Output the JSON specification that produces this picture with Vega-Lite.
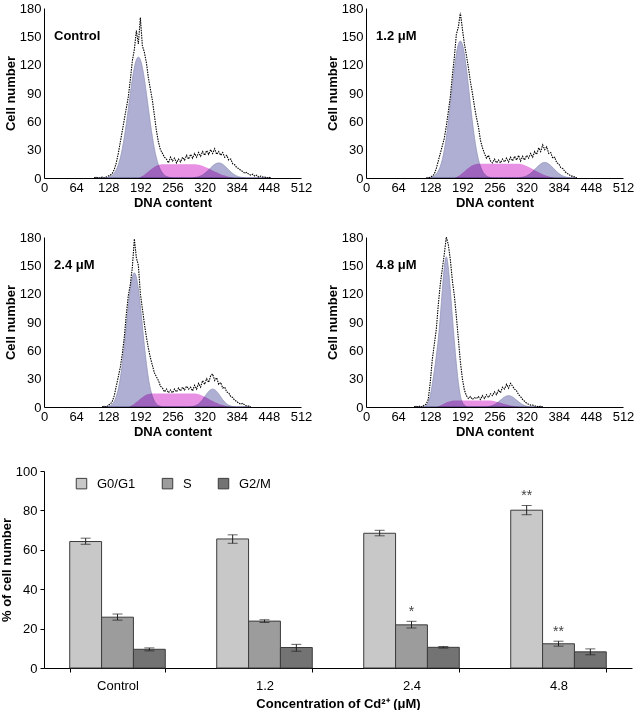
{
"$schema":"https://vega.github.io/schema/vega-lite/v6.json",
"padding":{"left":0,"top":2,"right":2,"bottom":0},
"config":{"font":"Liberation Sans","view":{"stroke":null},
"axis":{"labelFont":"Liberation Sans","labelFontSize":13,"labelColor":"#000","titleFont":"Liberation Sans","titleFontSize":13,"titleFontWeight":"bold","titleColor":"#000","domainColor":"#000","tickColor":"#000","grid":false,"ticks":false,"labelPadding":3,"titlePadding":2,"labelOverlap":false,"tickCount":20}},
"resolve":{"scale":{"color":"independent"},"legend":{"color":"independent"}},
"datasets":{
"hist":[
{"p":"Control","x":100,"a":0,"s":0,"b":0,"d":0},
{"p":"Control","x":104,"a":0,"s":0,"b":0,"d":1},
{"p":"Control","x":108,"a":0,"s":0,"b":0,"d":0},
{"p":"Control","x":112,"a":0,"s":0,"b":0,"d":0},
{"p":"Control","x":116,"a":0,"s":0,"b":0,"d":1},
{"p":"Control","x":120,"a":0,"s":0,"b":0,"d":0},
{"p":"Control","x":124,"a":0,"s":0,"b":0,"d":1},
{"p":"Control","x":128,"a":0.9,"s":0,"b":0,"d":2},
{"p":"Control","x":132,"a":1.7,"s":0,"b":0,"d":3},
{"p":"Control","x":136,"a":3.0,"s":0,"b":0,"d":5},
{"p":"Control","x":140,"a":5.3,"s":0,"b":0,"d":9},
{"p":"Control","x":144,"a":8.8,"s":0,"b":0,"d":16},
{"p":"Control","x":148,"a":14.0,"s":0,"b":0,"d":26},
{"p":"Control","x":152,"a":21.2,"s":0,"b":0,"d":38},
{"p":"Control","x":156,"a":31.0,"s":0,"b":0,"d":50},
{"p":"Control","x":160,"a":43.3,"s":0,"b":0,"d":62},
{"p":"Control","x":164,"a":57.6,"s":0,"b":0,"d":74},
{"p":"Control","x":168,"a":73.6,"s":0,"b":0,"d":86},
{"p":"Control","x":172,"a":89.7,"s":0,"b":0,"d":104},
{"p":"Control","x":176,"a":104.8,"s":0,"b":0,"d":124},
{"p":"Control","x":180,"a":117.1,"s":0,"b":0,"d":136},
{"p":"Control","x":184,"a":125.2,"s":0,"b":0,"d":156},
{"p":"Control","x":188,"a":128,"s":0,"b":0,"d":142},
{"p":"Control","x":192,"a":125.2,"s":0.8,"b":0,"d":170},
{"p":"Control","x":196,"a":117.1,"s":2,"b":0,"d":140},
{"p":"Control","x":200,"a":104.8,"s":3.5,"b":0,"d":133},
{"p":"Control","x":204,"a":89.7,"s":5.2,"b":0,"d":122},
{"p":"Control","x":208,"a":73.6,"s":7,"b":0,"d":106},
{"p":"Control","x":212,"a":57.6,"s":8.8,"b":0,"d":94},
{"p":"Control","x":216,"a":43.3,"s":10.4,"b":0,"d":82},
{"p":"Control","x":220,"a":31.0,"s":11.8,"b":0,"d":66},
{"p":"Control","x":224,"a":21.2,"s":13,"b":0,"d":50},
{"p":"Control","x":228,"a":14.0,"s":13.8,"b":0,"d":38},
{"p":"Control","x":232,"a":8.8,"s":14.3,"b":0,"d":30},
{"p":"Control","x":236,"a":5.3,"s":14.5,"b":0,"d":26},
{"p":"Control","x":240,"a":3.0,"s":14.5,"b":0,"d":22},
{"p":"Control","x":244,"a":1.7,"s":14.5,"b":0,"d":20},
{"p":"Control","x":248,"a":0.9,"s":14.5,"b":0,"d":16},
{"p":"Control","x":252,"a":0.5,"s":14.5,"b":0,"d":22},
{"p":"Control","x":256,"a":0,"s":14.5,"b":0,"d":18},
{"p":"Control","x":260,"a":0,"s":14.5,"b":0,"d":21},
{"p":"Control","x":264,"a":0,"s":14.5,"b":0,"d":16},
{"p":"Control","x":268,"a":0,"s":14.5,"b":0,"d":20},
{"p":"Control","x":272,"a":0,"s":14.5,"b":0,"d":17},
{"p":"Control","x":276,"a":0,"s":14.5,"b":0,"d":22},
{"p":"Control","x":280,"a":0,"s":14.5,"b":0,"d":19},
{"p":"Control","x":284,"a":0,"s":14.5,"b":0,"d":24},
{"p":"Control","x":288,"a":0,"s":14.5,"b":0,"d":20},
{"p":"Control","x":292,"a":0,"s":14.5,"b":0,"d":25},
{"p":"Control","x":296,"a":0,"s":14.5,"b":0,"d":21},
{"p":"Control","x":300,"a":0,"s":14.5,"b":0.5,"d":26},
{"p":"Control","x":304,"a":0,"s":14.3,"b":0.8,"d":22},
{"p":"Control","x":308,"a":0,"s":14,"b":1.4,"d":27},
{"p":"Control","x":312,"a":0,"s":13.5,"b":2.2,"d":23},
{"p":"Control","x":316,"a":0,"s":12.8,"b":3.3,"d":28},
{"p":"Control","x":320,"a":0,"s":12,"b":4.8,"d":24},
{"p":"Control","x":324,"a":0,"s":11,"b":6.6,"d":29},
{"p":"Control","x":328,"a":0,"s":10,"b":8.6,"d":25},
{"p":"Control","x":332,"a":0,"s":9,"b":10.8,"d":30},
{"p":"Control","x":336,"a":0,"s":8,"b":12.8,"d":26},
{"p":"Control","x":340,"a":0,"s":7,"b":14.5,"d":31},
{"p":"Control","x":344,"a":0,"s":6,"b":15.6,"d":25},
{"p":"Control","x":348,"a":0,"s":5,"b":16,"d":28},
{"p":"Control","x":352,"a":0,"s":4.1,"b":15.6,"d":24},
{"p":"Control","x":356,"a":0,"s":3.3,"b":14.5,"d":27},
{"p":"Control","x":360,"a":0,"s":2.6,"b":12.8,"d":22},
{"p":"Control","x":364,"a":0,"s":1.9,"b":10.8,"d":24},
{"p":"Control","x":368,"a":0,"s":1.3,"b":8.6,"d":19},
{"p":"Control","x":372,"a":0,"s":0.8,"b":6.6,"d":20},
{"p":"Control","x":376,"a":0,"s":0.4,"b":4.8,"d":15},
{"p":"Control","x":380,"a":0,"s":0,"b":3.3,"d":14},
{"p":"Control","x":384,"a":0,"s":0,"b":2.2,"d":11},
{"p":"Control","x":388,"a":0,"s":0,"b":1.4,"d":10},
{"p":"Control","x":392,"a":0,"s":0,"b":0.8,"d":8},
{"p":"Control","x":396,"a":0,"s":0,"b":0.5,"d":7},
{"p":"Control","x":400,"a":0,"s":0,"b":0.2,"d":5},
{"p":"Control","x":404,"a":0,"s":0,"b":0,"d":6},
{"p":"Control","x":408,"a":0,"s":0,"b":0,"d":4},
{"p":"Control","x":412,"a":0,"s":0,"b":0,"d":3},
{"p":"Control","x":416,"a":0,"s":0,"b":0,"d":4},
{"p":"Control","x":420,"a":0,"s":0,"b":0,"d":2},
{"p":"Control","x":424,"a":0,"s":0,"b":0,"d":3},
{"p":"Control","x":428,"a":0,"s":0,"b":0,"d":1},
{"p":"Control","x":432,"a":0,"s":0,"b":0,"d":2},
{"p":"Control","x":436,"a":0,"s":0,"b":0,"d":1},
{"p":"Control","x":440,"a":0,"s":0,"b":0,"d":1},
{"p":"Control","x":444,"a":0,"s":0,"b":0,"d":0},
{"p":"Control","x":448,"a":0,"s":0,"b":0,"d":1},
{"p":"Control","x":452,"a":0,"s":0,"b":0,"d":0},
{"p":"1.2 μM","x":120,"a":0,"s":0,"b":0,"d":0},
{"p":"1.2 μM","x":124,"a":0,"s":0,"b":0,"d":0},
{"p":"1.2 μM","x":128,"a":0,"s":0,"b":0,"d":1},
{"p":"1.2 μM","x":132,"a":1.1,"s":0,"b":0,"d":2},
{"p":"1.2 μM","x":136,"a":2.2,"s":0,"b":0,"d":4},
{"p":"1.2 μM","x":140,"a":4.2,"s":0,"b":0,"d":10},
{"p":"1.2 μM","x":144,"a":7.3,"s":0,"b":0,"d":18},
{"p":"1.2 μM","x":148,"a":12.3,"s":0,"b":0,"d":26},
{"p":"1.2 μM","x":152,"a":19.6,"s":0,"b":0,"d":34},
{"p":"1.2 μM","x":156,"a":29.9,"s":0,"b":0,"d":42},
{"p":"1.2 μM","x":160,"a":43.2,"s":0,"b":0,"d":55},
{"p":"1.2 μM","x":164,"a":59.6,"s":0,"b":0,"d":70},
{"p":"1.2 μM","x":168,"a":78.2,"s":0,"b":0,"d":86},
{"p":"1.2 μM","x":172,"a":97.7,"s":0,"b":0,"d":108},
{"p":"1.2 μM","x":176,"a":116.1,"s":0,"b":0,"d":128},
{"p":"1.2 μM","x":180,"a":131.4,"s":0.8,"b":0,"d":152},
{"p":"1.2 μM","x":184,"a":141.5,"s":2,"b":0,"d":160},
{"p":"1.2 μM","x":188,"a":145,"s":3.5,"b":0,"d":175},
{"p":"1.2 μM","x":192,"a":141.5,"s":5.2,"b":0,"d":158},
{"p":"1.2 μM","x":196,"a":131.4,"s":7,"b":0,"d":142},
{"p":"1.2 μM","x":200,"a":116.1,"s":8.9,"b":0,"d":130},
{"p":"1.2 μM","x":204,"a":97.7,"s":10.6,"b":0,"d":117},
{"p":"1.2 μM","x":208,"a":78.2,"s":12.2,"b":0,"d":102},
{"p":"1.2 μM","x":212,"a":59.6,"s":13.4,"b":0,"d":90},
{"p":"1.2 μM","x":216,"a":43.2,"s":14.3,"b":0,"d":76},
{"p":"1.2 μM","x":220,"a":29.9,"s":14.8,"b":0,"d":64},
{"p":"1.2 μM","x":224,"a":19.6,"s":15,"b":0,"d":54},
{"p":"1.2 μM","x":228,"a":12.3,"s":15,"b":0,"d":40},
{"p":"1.2 μM","x":232,"a":7.3,"s":15,"b":0,"d":32},
{"p":"1.2 μM","x":236,"a":4.2,"s":15,"b":0,"d":26},
{"p":"1.2 μM","x":240,"a":2.2,"s":15,"b":0,"d":21},
{"p":"1.2 μM","x":244,"a":1.1,"s":15,"b":0,"d":24},
{"p":"1.2 μM","x":248,"a":0.5,"s":15,"b":0,"d":18},
{"p":"1.2 μM","x":252,"a":0,"s":15,"b":0,"d":16},
{"p":"1.2 μM","x":256,"a":0,"s":15,"b":0,"d":20},
{"p":"1.2 μM","x":260,"a":0,"s":15,"b":0,"d":16},
{"p":"1.2 μM","x":264,"a":0,"s":15,"b":0,"d":19},
{"p":"1.2 μM","x":268,"a":0,"s":15,"b":0,"d":16},
{"p":"1.2 μM","x":272,"a":0,"s":15,"b":0,"d":20},
{"p":"1.2 μM","x":276,"a":0,"s":15,"b":0,"d":17},
{"p":"1.2 μM","x":280,"a":0,"s":15,"b":0,"d":21},
{"p":"1.2 μM","x":284,"a":0,"s":15,"b":0,"d":17},
{"p":"1.2 μM","x":288,"a":0,"s":15,"b":0,"d":22},
{"p":"1.2 μM","x":292,"a":0,"s":15,"b":0,"d":18},
{"p":"1.2 μM","x":296,"a":0,"s":15,"b":0,"d":23},
{"p":"1.2 μM","x":300,"a":0,"s":15,"b":0,"d":19},
{"p":"1.2 μM","x":304,"a":0,"s":15,"b":0,"d":24},
{"p":"1.2 μM","x":308,"a":0,"s":14.7,"b":0.5,"d":18},
{"p":"1.2 μM","x":312,"a":0,"s":14.2,"b":0.8,"d":23},
{"p":"1.2 μM","x":316,"a":0,"s":13.5,"b":1.4,"d":19},
{"p":"1.2 μM","x":320,"a":0,"s":12.6,"b":2.2,"d":24},
{"p":"1.2 μM","x":324,"a":0,"s":11.6,"b":3.4,"d":21},
{"p":"1.2 μM","x":328,"a":0,"s":10.5,"b":4.9,"d":26},
{"p":"1.2 μM","x":332,"a":0,"s":9.4,"b":6.8,"d":22},
{"p":"1.2 μM","x":336,"a":0,"s":8.3,"b":8.9,"d":28},
{"p":"1.2 μM","x":340,"a":0,"s":7.2,"b":11.1,"d":25},
{"p":"1.2 μM","x":344,"a":0,"s":6.1,"b":13.2,"d":32},
{"p":"1.2 μM","x":348,"a":0,"s":5.1,"b":14.9,"d":28},
{"p":"1.2 μM","x":352,"a":0,"s":4.1,"b":16.1,"d":35},
{"p":"1.2 μM","x":356,"a":0,"s":3.2,"b":16.5,"d":30},
{"p":"1.2 μM","x":360,"a":0,"s":2.4,"b":16.1,"d":33},
{"p":"1.2 μM","x":364,"a":0,"s":1.7,"b":14.9,"d":26},
{"p":"1.2 μM","x":368,"a":0,"s":1.1,"b":13.2,"d":27},
{"p":"1.2 μM","x":372,"a":0,"s":0.6,"b":11.1,"d":21},
{"p":"1.2 μM","x":376,"a":0,"s":0.3,"b":8.9,"d":22},
{"p":"1.2 μM","x":380,"a":0,"s":0,"b":6.8,"d":16},
{"p":"1.2 μM","x":384,"a":0,"s":0,"b":4.9,"d":15},
{"p":"1.2 μM","x":388,"a":0,"s":0,"b":3.4,"d":11},
{"p":"1.2 μM","x":392,"a":0,"s":0,"b":2.2,"d":10},
{"p":"1.2 μM","x":396,"a":0,"s":0,"b":1.4,"d":7},
{"p":"1.2 μM","x":400,"a":0,"s":0,"b":0.8,"d":5},
{"p":"1.2 μM","x":404,"a":0,"s":0,"b":0.5,"d":4},
{"p":"1.2 μM","x":408,"a":0,"s":0,"b":0,"d":2},
{"p":"1.2 μM","x":412,"a":0,"s":0,"b":0,"d":2},
{"p":"1.2 μM","x":416,"a":0,"s":0,"b":0,"d":1},
{"p":"1.2 μM","x":420,"a":0,"s":0,"b":0,"d":0},
{"p":"2.4 μM","x":116,"a":0,"s":0,"b":0,"d":0},
{"p":"2.4 μM","x":120,"a":0,"s":0,"b":0,"d":1},
{"p":"2.4 μM","x":124,"a":0,"s":0,"b":0,"d":0},
{"p":"2.4 μM","x":128,"a":0.7,"s":0,"b":0,"d":2},
{"p":"2.4 μM","x":132,"a":1.6,"s":0,"b":0,"d":3},
{"p":"2.4 μM","x":136,"a":3.2,"s":0,"b":0,"d":6},
{"p":"2.4 μM","x":140,"a":6.2,"s":0,"b":0,"d":12},
{"p":"2.4 μM","x":144,"a":11.3,"s":0,"b":0,"d":22},
{"p":"2.4 μM","x":148,"a":19.2,"s":0,"b":0,"d":32},
{"p":"2.4 μM","x":152,"a":30.7,"s":0,"b":0,"d":42},
{"p":"2.4 μM","x":156,"a":46.2,"s":0,"b":0,"d":56},
{"p":"2.4 μM","x":160,"a":65.0,"s":0,"b":0,"d":74},
{"p":"2.4 μM","x":164,"a":86.2,"s":0,"b":0,"d":98},
{"p":"2.4 μM","x":168,"a":107.2,"s":0,"b":0,"d":118},
{"p":"2.4 μM","x":172,"a":125.2,"s":0.8,"b":0,"d":130},
{"p":"2.4 μM","x":176,"a":137.6,"s":2,"b":0,"d":148},
{"p":"2.4 μM","x":180,"a":142,"s":3.5,"b":0,"d":178},
{"p":"2.4 μM","x":184,"a":137.6,"s":5.2,"b":0,"d":158},
{"p":"2.4 μM","x":188,"a":125.2,"s":7,"b":0,"d":150},
{"p":"2.4 μM","x":192,"a":107.2,"s":8.8,"b":0,"d":120},
{"p":"2.4 μM","x":196,"a":86.2,"s":10.4,"b":0,"d":104},
{"p":"2.4 μM","x":200,"a":65.0,"s":11.8,"b":0,"d":88},
{"p":"2.4 μM","x":204,"a":46.2,"s":12.9,"b":0,"d":74},
{"p":"2.4 μM","x":208,"a":30.7,"s":13.7,"b":0,"d":62},
{"p":"2.4 μM","x":212,"a":19.2,"s":14.1,"b":0,"d":52},
{"p":"2.4 μM","x":216,"a":11.3,"s":14.2,"b":0,"d":44},
{"p":"2.4 μM","x":220,"a":6.2,"s":14.2,"b":0,"d":36},
{"p":"2.4 μM","x":224,"a":3.2,"s":14.2,"b":0,"d":32},
{"p":"2.4 μM","x":228,"a":1.6,"s":14.2,"b":0,"d":28},
{"p":"2.4 μM","x":232,"a":0.7,"s":14.2,"b":0,"d":22},
{"p":"2.4 μM","x":236,"a":0,"s":14.2,"b":0,"d":20},
{"p":"2.4 μM","x":240,"a":0,"s":14.2,"b":0,"d":16},
{"p":"2.4 μM","x":244,"a":0,"s":14.2,"b":0,"d":19},
{"p":"2.4 μM","x":248,"a":0,"s":14.2,"b":0,"d":15},
{"p":"2.4 μM","x":252,"a":0,"s":14.2,"b":0,"d":18},
{"p":"2.4 μM","x":256,"a":0,"s":14.2,"b":0,"d":15},
{"p":"2.4 μM","x":260,"a":0,"s":14.2,"b":0,"d":19},
{"p":"2.4 μM","x":264,"a":0,"s":14.2,"b":0,"d":16},
{"p":"2.4 μM","x":268,"a":0,"s":14.2,"b":0,"d":20},
{"p":"2.4 μM","x":272,"a":0,"s":14.2,"b":0,"d":17},
{"p":"2.4 μM","x":276,"a":0,"s":14.2,"b":0,"d":21},
{"p":"2.4 μM","x":280,"a":0,"s":14.2,"b":0,"d":18},
{"p":"2.4 μM","x":284,"a":0,"s":14.2,"b":0,"d":22},
{"p":"2.4 μM","x":288,"a":0,"s":14.2,"b":0,"d":19},
{"p":"2.4 μM","x":292,"a":0,"s":14.2,"b":0.3,"d":21},
{"p":"2.4 μM","x":296,"a":0,"s":14.2,"b":0.5,"d":17},
{"p":"2.4 μM","x":300,"a":0,"s":14.2,"b":1.1,"d":23},
{"p":"2.4 μM","x":304,"a":0,"s":13.9,"b":2.0,"d":19},
{"p":"2.4 μM","x":308,"a":0,"s":13.4,"b":3.3,"d":25},
{"p":"2.4 μM","x":312,"a":0,"s":12.7,"b":5.3,"d":21},
{"p":"2.4 μM","x":316,"a":0,"s":11.8,"b":7.8,"d":28},
{"p":"2.4 μM","x":320,"a":0,"s":10.8,"b":10.8,"d":24},
{"p":"2.4 μM","x":324,"a":0,"s":9.7,"b":13.8,"d":30},
{"p":"2.4 μM","x":328,"a":0,"s":8.6,"b":16.5,"d":26},
{"p":"2.4 μM","x":332,"a":0,"s":7.5,"b":18.3,"d":33},
{"p":"2.4 μM","x":336,"a":0,"s":6.4,"b":19,"d":35},
{"p":"2.4 μM","x":340,"a":0,"s":5.4,"b":18.3,"d":28},
{"p":"2.4 μM","x":344,"a":0,"s":4.4,"b":16.5,"d":31},
{"p":"2.4 μM","x":348,"a":0,"s":3.5,"b":13.8,"d":24},
{"p":"2.4 μM","x":352,"a":0,"s":2.7,"b":10.8,"d":26},
{"p":"2.4 μM","x":356,"a":0,"s":2,"b":7.8,"d":20},
{"p":"2.4 μM","x":360,"a":0,"s":1.4,"b":5.3,"d":21},
{"p":"2.4 μM","x":364,"a":0,"s":0.9,"b":3.3,"d":16},
{"p":"2.4 μM","x":368,"a":0,"s":0.5,"b":2.0,"d":15},
{"p":"2.4 μM","x":372,"a":0,"s":0.2,"b":1.1,"d":11},
{"p":"2.4 μM","x":376,"a":0,"s":0,"b":0.5,"d":10},
{"p":"2.4 μM","x":380,"a":0,"s":0,"b":0.3,"d":7},
{"p":"2.4 μM","x":384,"a":0,"s":0,"b":0,"d":6},
{"p":"2.4 μM","x":388,"a":0,"s":0,"b":0,"d":4},
{"p":"2.4 μM","x":392,"a":0,"s":0,"b":0,"d":3},
{"p":"2.4 μM","x":396,"a":0,"s":0,"b":0,"d":4},
{"p":"2.4 μM","x":400,"a":0,"s":0,"b":0,"d":2},
{"p":"2.4 μM","x":404,"a":0,"s":0,"b":0,"d":1},
{"p":"2.4 μM","x":408,"a":0,"s":0,"b":0,"d":1},
{"p":"2.4 μM","x":412,"a":0,"s":0,"b":0,"d":0},
{"p":"4.8 μM","x":96,"a":0,"s":0,"b":0,"d":0},
{"p":"4.8 μM","x":100,"a":0,"s":0,"b":0,"d":1},
{"p":"4.8 μM","x":104,"a":0,"s":0,"b":0,"d":0},
{"p":"4.8 μM","x":108,"a":0,"s":0,"b":0,"d":1},
{"p":"4.8 μM","x":112,"a":0,"s":0,"b":0,"d":0},
{"p":"4.8 μM","x":116,"a":0,"s":0,"b":0,"d":2},
{"p":"4.8 μM","x":120,"a":2,"s":0,"b":0,"d":3},
{"p":"4.8 μM","x":124,"a":5,"s":0,"b":0,"d":8},
{"p":"4.8 μM","x":128,"a":12,"s":0,"b":0,"d":26},
{"p":"4.8 μM","x":132,"a":24,"s":0,"b":0,"d":50},
{"p":"4.8 μM","x":136,"a":38,"s":0,"b":0,"d":66},
{"p":"4.8 μM","x":140,"a":54,"s":0,"b":0,"d":82},
{"p":"4.8 μM","x":144,"a":72,"s":0.6,"b":0,"d":108},
{"p":"4.8 μM","x":148,"a":96,"s":1.5,"b":0,"d":130},
{"p":"4.8 μM","x":152,"a":124,"s":2.6,"b":0,"d":146},
{"p":"4.8 μM","x":156,"a":148,"s":3.7,"b":0,"d":162},
{"p":"4.8 μM","x":160,"a":159,"s":4.7,"b":0,"d":180},
{"p":"4.8 μM","x":164,"a":148,"s":5.5,"b":0,"d":172},
{"p":"4.8 μM","x":168,"a":124,"s":6.2,"b":0,"d":156},
{"p":"4.8 μM","x":172,"a":96,"s":6.7,"b":0,"d":134},
{"p":"4.8 μM","x":176,"a":70,"s":7,"b":0,"d":118},
{"p":"4.8 μM","x":180,"a":46,"s":7,"b":0,"d":96},
{"p":"4.8 μM","x":184,"a":26,"s":7,"b":0,"d":72},
{"p":"4.8 μM","x":188,"a":12,"s":7,"b":0,"d":48},
{"p":"4.8 μM","x":192,"a":5,"s":7,"b":0,"d":30},
{"p":"4.8 μM","x":196,"a":2,"s":7,"b":0,"d":18},
{"p":"4.8 μM","x":200,"a":0.5,"s":7,"b":0,"d":12},
{"p":"4.8 μM","x":204,"a":0,"s":7,"b":0,"d":9},
{"p":"4.8 μM","x":208,"a":0,"s":7,"b":0,"d":11},
{"p":"4.8 μM","x":212,"a":0,"s":7,"b":0,"d":8},
{"p":"4.8 μM","x":216,"a":0,"s":7,"b":0,"d":10},
{"p":"4.8 μM","x":220,"a":0,"s":7,"b":0,"d":9},
{"p":"4.8 μM","x":224,"a":0,"s":7,"b":0,"d":11},
{"p":"4.8 μM","x":228,"a":0,"s":7,"b":0,"d":8},
{"p":"4.8 μM","x":232,"a":0,"s":7,"b":0,"d":12},
{"p":"4.8 μM","x":236,"a":0,"s":7,"b":0,"d":9},
{"p":"4.8 μM","x":240,"a":0,"s":7,"b":0,"d":13},
{"p":"4.8 μM","x":244,"a":0,"s":7,"b":0.5,"d":10},
{"p":"4.8 μM","x":248,"a":0,"s":6.8,"b":0.9,"d":14},
{"p":"4.8 μM","x":252,"a":0,"s":6.5,"b":1.6,"d":12},
{"p":"4.8 μM","x":256,"a":0,"s":6.1,"b":2.6,"d":16},
{"p":"4.8 μM","x":260,"a":0,"s":5.6,"b":4.0,"d":13},
{"p":"4.8 μM","x":264,"a":0,"s":5,"b":5.5,"d":18},
{"p":"4.8 μM","x":268,"a":0,"s":4.4,"b":7.3,"d":15},
{"p":"4.8 μM","x":272,"a":0,"s":3.8,"b":9.1,"d":21},
{"p":"4.8 μM","x":276,"a":0,"s":3.2,"b":10.6,"d":19},
{"p":"4.8 μM","x":280,"a":0,"s":2.6,"b":11.7,"d":24},
{"p":"4.8 μM","x":284,"a":0,"s":2.1,"b":12,"d":20},
{"p":"4.8 μM","x":288,"a":0,"s":1.6,"b":11.7,"d":25},
{"p":"4.8 μM","x":292,"a":0,"s":1.2,"b":10.6,"d":22},
{"p":"4.8 μM","x":296,"a":0,"s":0.8,"b":9.1,"d":19},
{"p":"4.8 μM","x":300,"a":0,"s":0.5,"b":7.3,"d":17},
{"p":"4.8 μM","x":304,"a":0,"s":0.3,"b":5.5,"d":13},
{"p":"4.8 μM","x":308,"a":0,"s":0.1,"b":4.0,"d":11},
{"p":"4.8 μM","x":312,"a":0,"s":0,"b":2.6,"d":8},
{"p":"4.8 μM","x":316,"a":0,"s":0,"b":1.6,"d":6},
{"p":"4.8 μM","x":320,"a":0,"s":0,"b":0.9,"d":4},
{"p":"4.8 μM","x":324,"a":0,"s":0,"b":0.5,"d":3},
{"p":"4.8 μM","x":328,"a":0,"s":0,"b":0,"d":2},
{"p":"4.8 μM","x":332,"a":0,"s":0,"b":0,"d":2},
{"p":"4.8 μM","x":336,"a":0,"s":0,"b":0,"d":1},
{"p":"4.8 μM","x":340,"a":0,"s":0,"b":0,"d":1},
{"p":"4.8 μM","x":344,"a":0,"s":0,"b":0,"d":0},
{"p":"4.8 μM","x":348,"a":0,"s":0,"b":0,"d":1},
{"p":"4.8 μM","x":352,"a":0,"s":0,"b":0,"d":0}
],
"bars":[
{"g":"Control","ph":"G0/G1","v":64.2,"lo":62.8,"hi":65.9,"star":""},
{"g":"Control","ph":"S","v":25.8,"lo":24.3,"hi":27.4,"star":""},
{"g":"Control","ph":"G2/M","v":9.5,"lo":8.7,"hi":10.2,"star":""},
{"g":"1.2","ph":"G0/G1","v":65.5,"lo":63.3,"hi":67.6,"star":""},
{"g":"1.2","ph":"S","v":23.8,"lo":23.1,"hi":24.5,"star":""},
{"g":"1.2","ph":"G2/M","v":10.4,"lo":8.5,"hi":12.0,"star":""},
{"g":"2.4","ph":"G0/G1","v":68.4,"lo":67.1,"hi":69.9,"star":""},
{"g":"2.4","ph":"S","v":21.9,"lo":20.3,"hi":23.7,"star":"*"},
{"g":"2.4","ph":"G2/M","v":10.5,"lo":10.1,"hi":10.9,"star":""},
{"g":"4.8","ph":"G0/G1","v":80.1,"lo":77.8,"hi":82.5,"star":"**"},
{"g":"4.8","ph":"S","v":12.3,"lo":11.1,"hi":13.6,"star":"**"},
{"g":"4.8","ph":"G2/M","v":8.2,"lo":6.7,"hi":9.7,"star":""}
]
},
"spacing":27,
"vconcat":[
{"spacing":22,"vconcat":[
{"spacing":14,"hconcat":[
{"data":{"name":"hist"},"transform":[{"filter":"datum.p == 'Control'"}],"width":257,"height":170,
"encoding":{"x":{"field":"x","type":"quantitative","scale":{"domain":[0,512],"nice":false},"axis":{"title":"DNA content","values":[0,64,128,192,256,320,384,448,512],"labelFlush":false}}},
"layer":[
{"mark":{"type":"area","color":"#aeafd2","blend":"multiply","interpolate":"monotone","stroke":"#8e90b6","strokeWidth":0.7},"encoding":{"y":{"field":"a","type":"quantitative","scale":{"domain":[0,180],"nice":false},"axis":{"title":"Cell number","values":[0,30,60,90,120,150,180]}}}},
{"mark":{"type":"area","color":"#aeafd2","blend":"multiply","interpolate":"monotone","stroke":"#8e90b6","strokeWidth":0.7},"encoding":{"y":{"field":"b","type":"quantitative","title":"Cell number"}}},
{"mark":{"type":"area","color":"#e890e4","blend":"multiply","interpolate":"monotone"},"encoding":{"y":{"field":"s","type":"quantitative","title":"Cell number"}}},
{"mark":{"type":"line","color":"#000","strokeWidth":1.1,"strokeDash":[1.5,1]},"encoding":{"y":{"field":"d","type":"quantitative","title":"Cell number"}}},
{"transform":[{"filter":"datum.x == 200"}],"mark":{"type":"text","align":"left","baseline":"middle","fontSize":13,"fontWeight":"bold","color":"#000"},"encoding":{"x":{"datum":20,"type":"quantitative"},"y":{"datum":150,"type":"quantitative"},"text":{"field":"p"}}}
]},
{"data":{"name":"hist"},"transform":[{"filter":"datum.p == '1.2 μM'"}],"width":257,"height":170,
"encoding":{"x":{"field":"x","type":"quantitative","scale":{"domain":[0,512],"nice":false},"axis":{"title":"DNA content","values":[0,64,128,192,256,320,384,448,512],"labelFlush":false}}},
"layer":[
{"mark":{"type":"area","color":"#aeafd2","blend":"multiply","interpolate":"monotone","stroke":"#8e90b6","strokeWidth":0.7},"encoding":{"y":{"field":"a","type":"quantitative","scale":{"domain":[0,180],"nice":false},"axis":{"title":"Cell number","values":[0,30,60,90,120,150,180]}}}},
{"mark":{"type":"area","color":"#aeafd2","blend":"multiply","interpolate":"monotone","stroke":"#8e90b6","strokeWidth":0.7},"encoding":{"y":{"field":"b","type":"quantitative","title":"Cell number"}}},
{"mark":{"type":"area","color":"#e890e4","blend":"multiply","interpolate":"monotone"},"encoding":{"y":{"field":"s","type":"quantitative","title":"Cell number"}}},
{"mark":{"type":"line","color":"#000","strokeWidth":1.1,"strokeDash":[1.5,1]},"encoding":{"y":{"field":"d","type":"quantitative","title":"Cell number"}}},
{"transform":[{"filter":"datum.x == 200"}],"mark":{"type":"text","align":"left","baseline":"middle","fontSize":13,"fontWeight":"bold","color":"#000"},"encoding":{"x":{"datum":20,"type":"quantitative"},"y":{"datum":150,"type":"quantitative"},"text":{"field":"p"}}}
]}
]},
{"spacing":14,"hconcat":[
{"data":{"name":"hist"},"transform":[{"filter":"datum.p == '2.4 μM'"}],"width":257,"height":170,
"encoding":{"x":{"field":"x","type":"quantitative","scale":{"domain":[0,512],"nice":false},"axis":{"title":"DNA content","values":[0,64,128,192,256,320,384,448,512],"labelFlush":false}}},
"layer":[
{"mark":{"type":"area","color":"#aeafd2","blend":"multiply","interpolate":"monotone","stroke":"#8e90b6","strokeWidth":0.7},"encoding":{"y":{"field":"a","type":"quantitative","scale":{"domain":[0,180],"nice":false},"axis":{"title":"Cell number","values":[0,30,60,90,120,150,180]}}}},
{"mark":{"type":"area","color":"#aeafd2","blend":"multiply","interpolate":"monotone","stroke":"#8e90b6","strokeWidth":0.7},"encoding":{"y":{"field":"b","type":"quantitative","title":"Cell number"}}},
{"mark":{"type":"area","color":"#e890e4","blend":"multiply","interpolate":"monotone"},"encoding":{"y":{"field":"s","type":"quantitative","title":"Cell number"}}},
{"mark":{"type":"line","color":"#000","strokeWidth":1.1,"strokeDash":[1.5,1]},"encoding":{"y":{"field":"d","type":"quantitative","title":"Cell number"}}},
{"transform":[{"filter":"datum.x == 200"}],"mark":{"type":"text","align":"left","baseline":"middle","fontSize":13,"fontWeight":"bold","color":"#000"},"encoding":{"x":{"datum":20,"type":"quantitative"},"y":{"datum":150,"type":"quantitative"},"text":{"field":"p"}}}
]},
{"data":{"name":"hist"},"transform":[{"filter":"datum.p == '4.8 μM'"}],"width":257,"height":170,
"encoding":{"x":{"field":"x","type":"quantitative","scale":{"domain":[0,512],"nice":false},"axis":{"title":"DNA content","values":[0,64,128,192,256,320,384,448,512],"labelFlush":false}}},
"layer":[
{"mark":{"type":"area","color":"#aeafd2","blend":"multiply","interpolate":"monotone","stroke":"#8e90b6","strokeWidth":0.7},"encoding":{"y":{"field":"a","type":"quantitative","scale":{"domain":[0,180],"nice":false},"axis":{"title":"Cell number","values":[0,30,60,90,120,150,180]}}}},
{"mark":{"type":"area","color":"#aeafd2","blend":"multiply","interpolate":"monotone","stroke":"#8e90b6","strokeWidth":0.7},"encoding":{"y":{"field":"b","type":"quantitative","title":"Cell number"}}},
{"mark":{"type":"area","color":"#e890e4","blend":"multiply","interpolate":"monotone"},"encoding":{"y":{"field":"s","type":"quantitative","title":"Cell number"}}},
{"mark":{"type":"line","color":"#000","strokeWidth":1.1,"strokeDash":[1.5,1]},"encoding":{"y":{"field":"d","type":"quantitative","title":"Cell number"}}},
{"transform":[{"filter":"datum.x == 200"}],"mark":{"type":"text","align":"left","baseline":"middle","fontSize":13,"fontWeight":"bold","color":"#000"},"encoding":{"x":{"datum":20,"type":"quantitative"},"y":{"datum":150,"type":"quantitative"},"text":{"field":"p"}}}
]}
]}
]},
{
"data":{"name":"bars"},
"width":588,"height":197,
"encoding":{
"x":{"field":"g","type":"nominal","sort":["Control","1.2","2.4","4.8"],"scale":{"paddingInner":0.35,"paddingOuter":0.175},"axis":{"title":"Concentration of Cd²⁺ (μM)","labelAngle":0,"tickBand":"extent","ticks":true,"tickSize":4,"labelPadding":7,"titlePadding":5}},
"xOffset":{"field":"ph","type":"nominal","sort":["G0/G1","S","G2/M"],"scale":{"paddingInner":0,"paddingOuter":0}}
},
"layer":[
{"mark":{"type":"bar","stroke":"#3c3c3c","strokeWidth":1},
 "encoding":{"y":{"field":"v","type":"quantitative","scale":{"domain":[0,100],"nice":false},"axis":{"title":"% of cell number","values":[0,20,40,60,80,100],"ticks":true,"tickSize":4}},
 "color":{"field":"ph","type":"nominal","scale":{"domain":["G0/G1","S","G2/M"],"range":["#c8c8c8","#9c9c9c","#737373"]},
 "legend":{"title":null,"orient":"none","legendX":31,"legendY":6,"direction":"horizontal","symbolType":"square","symbolSize":110,"symbolStrokeColor":"#3c3c3c","symbolStrokeWidth":1,"labelFontSize":13,"labelFont":"Liberation Sans","labelColor":"#000","labelOffset":9,"columnPadding":24}}}},
{"mark":{"type":"rule","color":"#222","strokeWidth":1},
 "encoding":{"y":{"field":"lo","type":"quantitative","title":"% of cell number"},"y2":{"field":"hi"}}},
{"mark":{"type":"tick","color":"#222","size":10,"thickness":1},
 "encoding":{"y":{"field":"lo","type":"quantitative","title":"% of cell number"}}},
{"mark":{"type":"tick","color":"#222","size":10,"thickness":1},
 "encoding":{"y":{"field":"hi","type":"quantitative","title":"% of cell number"}}},
{"mark":{"type":"text","dy":-9,"fontSize":14,"color":"#444"},
 "encoding":{"y":{"field":"hi","type":"quantitative","title":"% of cell number"},"text":{"field":"star"}}}
]
}
]
}
